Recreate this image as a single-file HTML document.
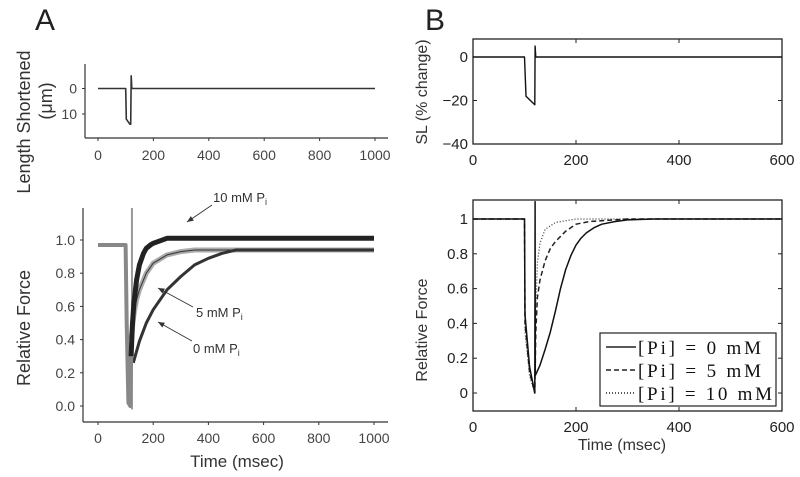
<!DOCTYPE html>
<html><head><meta charset="utf-8"><style>
html,body{margin:0;padding:0;background:#fff;}
svg{display:block;font-family:"Liberation Sans",sans-serif;}
</style></head><body>
<svg id="fig" width="800" height="477" viewBox="0 0 800 477"></svg>
<script>
// ---- Panel A top: length trace ----
const aLenT = [0, 100, 102, 115, 118, 120, 122, 1000];
const aLenV = [0, 0, 12, 14, 14, -5, 0, 0];
const aLenTicksX = [0, 200, 400, 600, 800, 1000];
const aLenTicksY = [0, 10];
// ---- Panel A bottom: force traces ----
const aF10T = [0, 100, 104, 110, 117, 120, 125, 130, 140, 150, 165, 175, 190, 200, 250, 1000];
const aF10V = [0.97, 0.97, 0.5, 0.02, 0.0, 0.3, 0.5, 0.62, 0.76, 0.85, 0.92, 0.95, 0.97, 0.98, 1.01, 1.01];
const aF5T = [120, 130, 140, 150, 175, 200, 250, 300, 350, 1000];
const aF5V = [0.4, 0.55, 0.64, 0.7, 0.8, 0.86, 0.91, 0.93, 0.94, 0.94];
const aF0T = [128, 140, 150, 175, 200, 250, 300, 350, 400, 450, 500, 1000];
const aF0V = [0.26, 0.33, 0.39, 0.5, 0.58, 0.7, 0.78, 0.85, 0.89, 0.92, 0.94, 0.94];
const aForceTicksX = [0, 200, 400, 600, 800, 1000];
const aForceTicksY = ["0.0", "0.2", "0.4", "0.6", "0.8", "1.0"];
// ---- Panel B top: SL ----
const bSLT = [0, 100, 103, 120, 120.5, 122, 600];
const bSLV = [0, 0, -18, -22, 5, 0, 0];
const bSLTicksX = [0, 200, 400, 600];
const bSLTicksY = [0, -20, -40];
// ---- Panel B bottom: model force ----
const bF0T = [0, 100, 101, 110, 118, 120, 120.5, 121, 130, 140, 150, 160, 170, 180, 190, 200, 210, 220, 235, 250, 275, 300, 350, 600];
const bF0V = [1, 1, 0.45, 0.15, 0.03, 0.0, 1.1, 0.1, 0.16, 0.25, 0.35, 0.47, 0.6, 0.71, 0.79, 0.85, 0.89, 0.92, 0.95, 0.97, 0.985, 0.995, 1.0, 1.0];
const bF5T = [0, 100, 101, 110, 120, 122, 125, 130, 140, 150, 160, 180, 200, 225, 250, 300, 600];
const bF5V = [1, 1, 0.4, 0.12, 0.0, 0.35, 0.55, 0.65, 0.76, 0.83, 0.87, 0.93, 0.97, 0.985, 0.99, 1.0, 1.0];
const bF10T = [0, 100, 101, 110, 120, 122, 125, 130, 140, 160, 200, 600];
const bF10V = [1, 1, 0.35, 0.1, 0.0, 0.5, 0.75, 0.86, 0.94, 0.98, 1.0, 1.0];
const bForceTicksX = [0, 200, 400, 600];
const bForceTicksY = [0, 0.2, 0.4, 0.6, 0.8, 1];
const legendLabels = ["[Pi]  =  0  mM", "[Pi]  =  5  mM", "[Pi]  =  10  mM"];

const svg = document.getElementById('fig');
const NS = 'http://www.w3.org/2000/svg';
function mk(tag, attrs, parent) {
  const e = document.createElementNS(NS, tag);
  for (const k in attrs) e.setAttribute(k, attrs[k]);
  (parent || svg).appendChild(e);
  return e;
}
function txt(s, x, y, size, anchor, parent, extra) {
  const e = mk('text', Object.assign({x: x, y: y, 'font-size': size, 'text-anchor': anchor || 'middle', fill: '#222'}, extra || {}), parent);
  e.textContent = s;
  return e;
}
function lin(d0, d1, r0, r1) { return v => r0 + (v - d0) / (d1 - d0) * (r1 - r0); }
function path(T, V, sx, sy, attrs, parent) {
  let d = '';
  T.forEach((t, i) => { d += (i ? 'L' : 'M') + sx(t).toFixed(1) + ',' + sy(V[i]).toFixed(1); });
  return mk('path', Object.assign({d: d, fill: 'none', 'stroke-linejoin': 'round'}, attrs), parent);
}

let e = txt('A', 35, 30, 30, 'start');  
e = txt('B', 425, 30, 30, 'start');  

// ===== A top =====
{
  const g = mk('g', {});
  
  
  const sx = lin(0, 1000, 98, 375), sy = lin(0, 10, 88.5, 114);
  mk('line', {x1: 85, y1: 64, x2: 85, y2: 138, stroke: '#333', 'stroke-width': 1.2}, g);
  mk('line', {x1: 85, y1: 138, x2: 388, y2: 138, stroke: '#333', 'stroke-width': 1.2}, g);
  aLenTicksX.forEach(v => { mk('line', {x1: sx(v), y1: 138, x2: sx(v), y2: 141, stroke: '#333'}, g); txt(String(v), sx(v), 160, 14, 'middle', g, {fill: '#444'}); });
  aLenTicksY.forEach(v => { mk('line', {x1: 82, y1: sy(v), x2: 85, y2: sy(v), stroke: '#333'}, g); txt(String(v), 77, sy(v) + 5, 14, 'end', g, {fill: '#444'}); });
  const p = path(aLenT, aLenV, sx, sy, {stroke: '#333', 'stroke-width': 1.6}, g);
   
}
e = txt('Length Shortened', 0, 0, 18, 'middle', null, {transform: 'translate(30,122) rotate(-90)', fill: '#333'});
 
e = txt('(\u03bcm)', 0, 0, 18, 'middle', null, {transform: 'translate(52,101) rotate(-90)', fill: '#333'});
 

// ===== A bottom =====
{
  const g = mk('g', {});
  
  
  const sx = lin(0, 1000, 98, 374), sy = lin(0, 1, 406, 240);
  mk('line', {x1: 83, y1: 208, x2: 83, y2: 422, stroke: '#333', 'stroke-width': 1.2}, g);
  mk('line', {x1: 83, y1: 422, x2: 388, y2: 422, stroke: '#333', 'stroke-width': 1.2}, g);
  aForceTicksX.forEach(v => { mk('line', {x1: sx(v), y1: 422, x2: sx(v), y2: 425, stroke: '#333'}, g); txt(String(v), sx(v), 443, 14, 'middle', g, {fill: '#444'}); });
  aForceTicksY.forEach(v => { const y = sy(parseFloat(v)); mk('line', {x1: 80, y1: y, x2: 83, y2: y, stroke: '#333'}, g); txt(v, 75, y + 5, 14, 'end', g, {fill: '#444'}); });
  let p = mk('line', {x1: sx(123), y1: 208, x2: sx(123), y2: sy(-0.02), stroke: '#999', 'stroke-width': 2}, g);
   
  p = path(aF5T, aF5V, sx, sy, {stroke: '#aaa', 'stroke-width': 5}, g);
   
  p = path(aF5T, aF5V, sx, sy, {stroke: '#333', 'stroke-width': 1}, g);
   
  p = path(aF0T, aF0V, sx, sy, {stroke: '#333', 'stroke-width': 3}, g);
   
  p = path(aF10T, aF10V, sx, sy, {stroke: '#888', 'stroke-width': 4}, g);
   
  p = path(aF10T.slice(5), aF10V.slice(5), sx, sy, {stroke: '#222', 'stroke-width': 5}, g);
   
  const ann = [['10 mM P', 213, 202, 212, 205, 187, 222], ['5 mM P', 196, 317, 193, 307, 158, 288], ['0 mM P', 193, 353, 192, 341, 158, 322]];
  ann.forEach((a, i) => {
    const t = txt(a[0], a[1], a[2], 13, 'start', g, {fill: '#333'});
    const s = mk('tspan', {'font-size': 9, dy: 3}, t); s.textContent = 'i';
    
    
    mk('line', {x1: a[3], y1: a[4], x2: a[5], y2: a[6], stroke: '#333', 'stroke-width': 0.9}, g);
    const ang = Math.atan2(a[6] - a[4], a[5] - a[3]);
    const hx = a[5], hy = a[6];
    mk('path', {d: `M${hx},${hy}L${hx - 7 * Math.cos(ang - 0.4)},${hy - 7 * Math.sin(ang - 0.4)}L${hx - 7 * Math.cos(ang + 0.4)},${hy - 7 * Math.sin(ang + 0.4)}Z`, fill: '#333'}, g);
  });
}
e = txt('Relative Force', 0, 0, 18, 'middle', null, {transform: 'translate(30,328) rotate(-90)', fill: '#333'});
 
e = txt('Time (msec)', 237, 467, 17, 'middle', null, {fill: '#333'});
 

// ===== B top =====
{
  const g = mk('g', {});
  
  
  const sx = lin(0, 600, 473, 782), sy = lin(0, -40, 57, 144);
  mk('rect', {x: 473, y: 39, width: 309, height: 105, fill: 'none', stroke: '#222', 'stroke-width': 1.3}, g);
  bSLTicksX.forEach(v => { mk('line', {x1: sx(v), y1: 144, x2: sx(v), y2: 140, stroke: '#222'}, g); mk('line', {x1: sx(v), y1: 39, x2: sx(v), y2: 43, stroke: '#222'}, g); txt(String(v), sx(v), 165, 15, 'middle', g); });
  bSLTicksY.forEach(v => { mk('line', {x1: 473, y1: sy(v), x2: 477, y2: sy(v), stroke: '#222'}, g); mk('line', {x1: 778, y1: sy(v), x2: 782, y2: sy(v), stroke: '#222'}, g); txt(v < 0 ? '\u2212' + (-v) : String(v), 468, sy(v) + 5, 15, 'end', g); });
  const p = path(bSLT, bSLV, sx, sy, {stroke: '#111', 'stroke-width': 1.4}, g);
   
}
e = txt('SL (% change)', 0, 0, 16, 'middle', null, {transform: 'translate(427,92) rotate(-90)', fill: '#333'});
 

// ===== B bottom =====
{
  const g = mk('g', {});
  
  
  const sx = lin(0, 600, 473, 782), sy = lin(0, 1, 393, 219);
  mk('rect', {x: 473, y: 200, width: 309, height: 211, fill: 'none', stroke: '#222', 'stroke-width': 1.3}, g);
  bForceTicksX.forEach(v => { mk('line', {x1: sx(v), y1: 411, x2: sx(v), y2: 407, stroke: '#222'}, g); mk('line', {x1: sx(v), y1: 200, x2: sx(v), y2: 204, stroke: '#222'}, g); txt(String(v), sx(v), 432, 15, 'middle', g); });
  bForceTicksY.forEach(v => { mk('line', {x1: 473, y1: sy(v), x2: 477, y2: sy(v), stroke: '#222'}, g); mk('line', {x1: 778, y1: sy(v), x2: 782, y2: sy(v), stroke: '#222'}, g); txt(String(v), 468, sy(v) + 5, 15, 'end', g); });
  let p = path(bF10T, bF10V, sx, sy, {stroke: '#333', 'stroke-width': 1.2, 'stroke-dasharray': '1,2'}, g);
   
  p = path(bF5T, bF5V, sx, sy, {stroke: '#222', 'stroke-width': 1.5, 'stroke-dasharray': '5,3'}, g);
   
  p = path(bF0T, bF0V, sx, sy, {stroke: '#111', 'stroke-width': 1.5}, g);
   
  const lg = mk('g', {}, g);
  
  
  mk('rect', {x: 600, y: 333, width: 176, height: 73, fill: '#fff', stroke: '#222', 'stroke-width': 1.2}, lg);
  const dashes = ['none', '5,3', '1,2'];
  legendLabels.forEach((s, i) => {
    const y = 347 + i * 23;
    const ent = mk('g', {}, lg);
    
    
    mk('line', {x1: 606, y1: y, x2: 636, y2: y, stroke: '#222', 'stroke-width': 1.4, 'stroke-dasharray': dashes[i]}, ent);
    txt(s, 638, y + 7, 19, 'start', ent, {'font-family': '"Liberation Serif", serif', 'xml:space': 'preserve', fill: '#111', textLength: i === 2 ? 134 : 123});
  });
}
e = txt('Relative Force', 0, 0, 16, 'middle', null, {transform: 'translate(427,330) rotate(-90)', fill: '#333'});
 
e = txt('Time (msec)', 622, 450, 16, 'middle', null, {fill: '#333'});
 
</script>
</body></html>
